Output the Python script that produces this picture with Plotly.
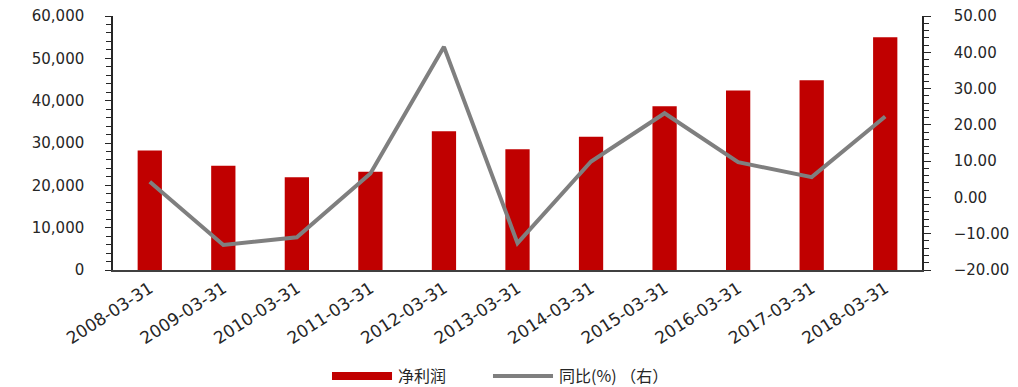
import plotly.graph_objects as go

# Quarterly net profit and year-on-year growth
dates = ["2008-03-31", "2009-03-31", "2010-03-31", "2011-03-31", "2012-03-31",
         "2013-03-31", "2014-03-31", "2015-03-31", "2016-03-31", "2017-03-31",
         "2018-03-31"]
net_profit = [28200, 24600, 21900, 23200, 32800, 28500, 31500, 38700, 42400, 44800, 55000]
yoy_pct = [4.3, -13.1, -11.0, 6.6, 41.5, -12.6, 9.9, 23.2, 9.7, 5.6, 22.3]

bar_name = "净利润"
line_name = "同比(%) （右）"

RED = "#C00000"
GREY = "#7F7F7F"
TXT = "#262626"
TICK_FONT = dict(family="DejaVu Sans", size=15, color=TXT)

fig = go.Figure()
fig.add_trace(go.Bar(x=dates, y=net_profit, name=bar_name, marker_color=RED,
                     marker_line_width=0, yaxis="y"))
fig.add_trace(go.Scatter(x=dates, y=yoy_pct, name=line_name, mode="lines",
                         line=dict(color=GREY, width=4), yaxis="y2"))

fig.update_layout(
    width=1018, height=387,
    margin=dict(l=113, r=96, t=16, b=117, autoexpand=False),
    plot_bgcolor="white", paper_bgcolor="white",
    showlegend=False,
    bargap=0.67,
    xaxis=dict(type="category", showline=True, linecolor="#404040", linewidth=2,
               ticks="", tickangle=-33, automargin=False,
               tickfont=dict(family="DejaVu Sans", size=17, color=TXT),
               showgrid=False, zeroline=False),
    yaxis=dict(range=[0, 60000], dtick=10000, tickformat=",", automargin=False,
               showline=True, linecolor="#262626", linewidth=1.5,
               ticks="outside", ticklen=6, tickcolor="#262626",
               minor=dict(dtick=2000, ticks="outside", ticklen=5, tickcolor="#262626"),
               ticklabelstandoff=18,
               tickfont=TICK_FONT, showgrid=False, zeroline=False),
    yaxis2=dict(range=[-20, 50], dtick=10, tickformat=".2f", overlaying="y", side="right",
                automargin=False,
                showline=True, linecolor="#262626", linewidth=1.5,
                ticks="outside", ticklen=7, tickcolor="#262626",
                minor=dict(dtick=2, ticks="outside", ticklen=5, tickcolor="#262626"),
                ticklabelstandoff=20,
                tickfont=TICK_FONT, showgrid=False, zeroline=False),
)

# Legend drawn below the plot area
legend_font = dict(family="Noto Sans CJK SC", size=16, color=TXT)
fig.add_shape(type="rect", xref="paper", yref="paper",
              x0=0.2707, x1=0.3449, y0=-0.433, y1=-0.4015,
              fillcolor=RED, line_width=0)
fig.add_shape(type="line", xref="paper", yref="paper",
              x0=0.4697, x1=0.5439, y0=-0.417, y1=-0.417,
              line=dict(color=GREY, width=4))
fig.add_annotation(xref="paper", yref="paper", x=0.3498, y=-0.412, text=bar_name,
                   showarrow=False, xanchor="left", yanchor="middle", font=legend_font)
fig.add_annotation(xref="paper", yref="paper", x=0.5488, y=-0.412, text=line_name,
                   showarrow=False, xanchor="left", yanchor="middle", font=legend_font)

fig.write_html("out.html")
